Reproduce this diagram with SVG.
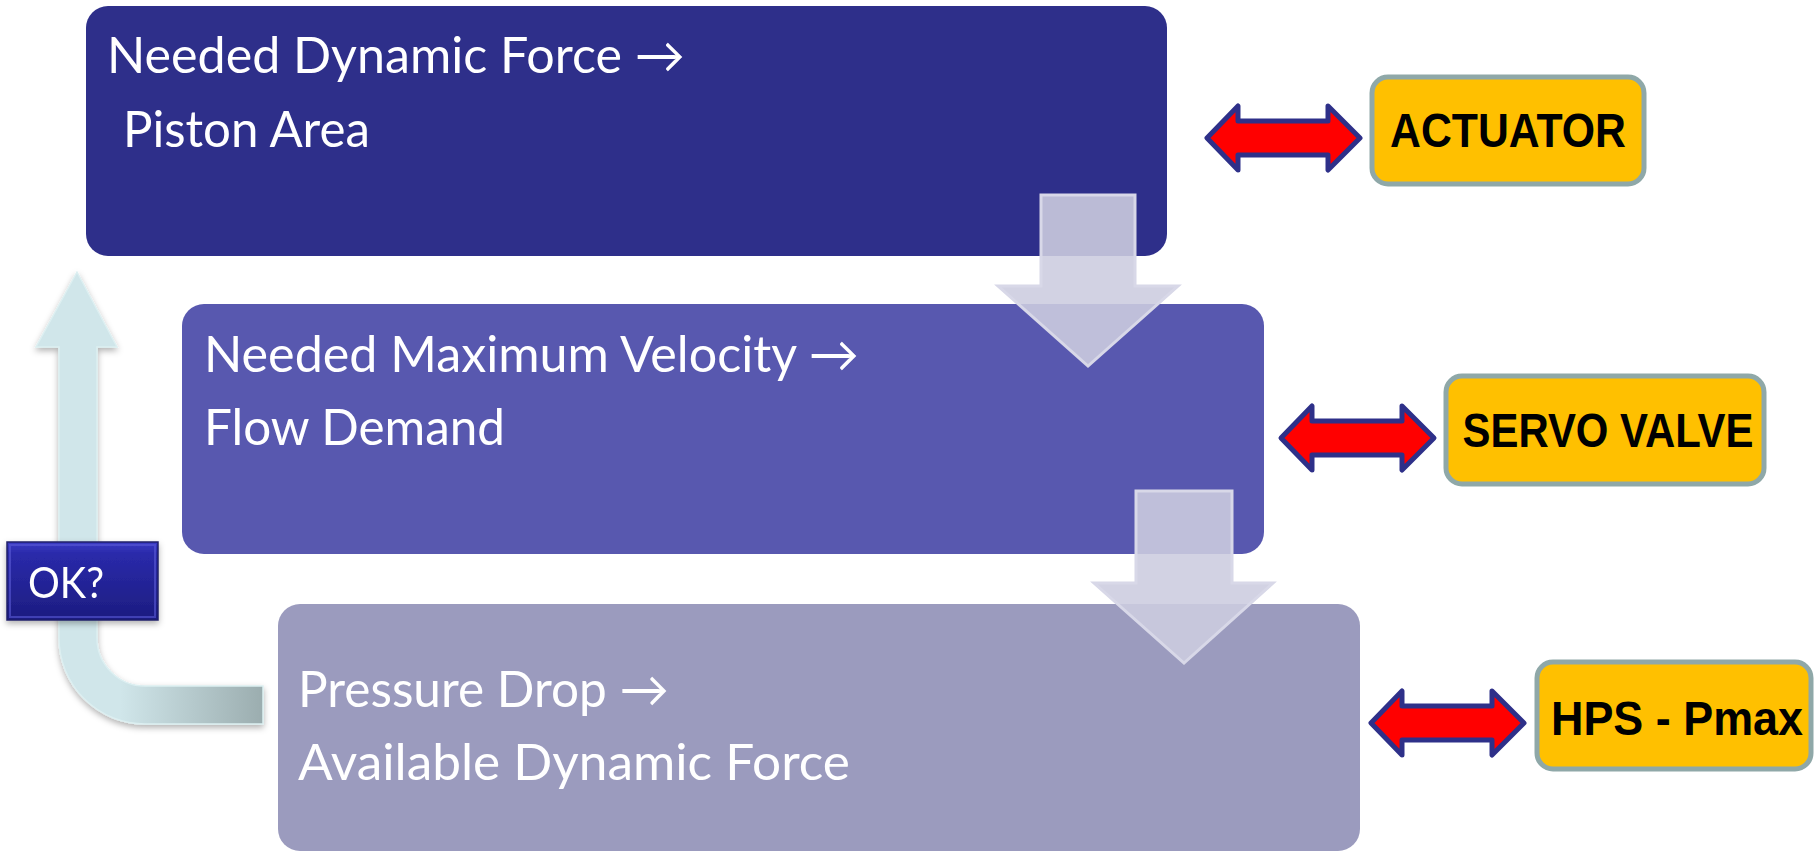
<svg xmlns="http://www.w3.org/2000/svg" xmlns:xlink="http://www.w3.org/1999/xlink" width="1820" height="852" viewBox="0 0 1820 852">
  <style>
    .step text { font-family: Lato, "Liberation Sans", sans-serif; font-size: 50px; fill: #ffffff; }
    .part rect { fill: #FFC000; stroke: #8FA8A8; stroke-width: 5; }
    .part text { font-family: "Liberation Sans", Arial, sans-serif; font-weight: bold; font-size: 48px; fill: #000000; text-anchor: middle; }
    .flow { fill: #CDCDDF; fill-opacity: 0.89; stroke: #D8D8E8; stroke-width: 3; }
    .link { fill: #FF0000; stroke: #2E3089; stroke-width: 5; stroke-linejoin: round; }
  </style>
  <defs>
    <linearGradient id="loopGrad" gradientUnits="userSpaceOnUse" x1="120" y1="0" x2="263" y2="0">
      <stop offset="0" stop-color="#D0E6EA"/>
      <stop offset="1" stop-color="#9BADAF"/>
    </linearGradient>
    <linearGradient id="okGrad" x1="0" y1="0" x2="0" y2="1">
      <stop offset="0" stop-color="#3A3AC4"/>
      <stop offset="0.15" stop-color="#2A2AAA"/>
      <stop offset="1" stop-color="#1C1C80"/>
    </linearGradient>
    <filter id="shadow" x="-20%" y="-20%" width="140%" height="140%">
      <feDropShadow dx="0" dy="3" stdDeviation="3" flood-color="#000000" flood-opacity="0.3"/>
    </filter>
    <!-- double-headed link arrow, origin at left tip -->
    <path id="dblArrow" d="M0,0 L31,-32 L31,-17 L121,-17 L121,-32 L153,0 L121,32 L121,17 L31,17 L31,32 Z"/>
  </defs>

  <!-- process steps -->
  <g id="step-force" class="step">
    <rect x="86" y="6" width="1081" height="250" rx="22" fill="#2E2F8A"/>
    <text x="107" y="73" textLength="578" lengthAdjust="spacingAndGlyphs">Needed Dynamic Force →</text>
    <text x="123" y="147" textLength="247" lengthAdjust="spacingAndGlyphs">Piston Area</text>
  </g>
  <g id="step-velocity" class="step">
    <rect x="182" y="304" width="1082" height="250" rx="22" fill="#5858AF"/>
    <text x="204" y="372" textLength="655" lengthAdjust="spacingAndGlyphs">Needed Maximum Velocity →</text>
    <text x="204" y="445" textLength="301" lengthAdjust="spacingAndGlyphs">Flow Demand</text>
  </g>
  <g id="step-pressure" class="step">
    <rect x="278" y="604" width="1082" height="247" rx="22" fill="#9B9BBE"/>
    <text x="298" y="707" textLength="371" lengthAdjust="spacingAndGlyphs">Pressure Drop →</text>
    <text x="298" y="780" textLength="552" lengthAdjust="spacingAndGlyphs">Available Dynamic Force</text>
  </g>

  <!-- components -->
  <g id="part-actuator" class="part">
    <rect x="1372" y="77" width="272" height="107" rx="16"/>
    <text x="1508" y="147" textLength="236" lengthAdjust="spacingAndGlyphs">ACTUATOR</text>
  </g>
  <g id="part-servo" class="part">
    <rect x="1446" y="376" width="318" height="108" rx="16"/>
    <text x="1608" y="447" textLength="291" lengthAdjust="spacingAndGlyphs">SERVO VALVE</text>
  </g>
  <g id="part-hps" class="part">
    <rect x="1537" y="662" width="274" height="107" rx="16"/>
    <text x="1677" y="735" textLength="252" lengthAdjust="spacingAndGlyphs">HPS - Pmax</text>
  </g>

  <!-- connectors -->
  <g id="connectors">
    <path class="flow" d="M1041,195 H1135 V286 H1178 L1088,366 L998,286 H1041 Z"/>
    <path class="flow" d="M1136,491 H1232 V583 H1273 L1184,663 L1094,583 H1136 Z"/>
    <path filter="url(#shadow)" fill="url(#loopGrad)" stroke="#DCEFF1" stroke-width="1.5"
          d="M77,272 L117,347 L97,347 L97,638 A48,48 0 0 0 145,686 L263,686 L263,724 L145,724 A86,86 0 0 1 59,638 L59,347 L36,347 Z"/>
    <use xlink:href="#dblArrow" class="link" transform="translate(1207,138)"/>
    <use xlink:href="#dblArrow" class="link" transform="translate(1281,438)"/>
    <use xlink:href="#dblArrow" class="link" transform="translate(1371,723)"/>
  </g>

  <!-- loop check -->
  <g id="check-ok" filter="url(#shadow)">
    <rect x="7" y="542" width="151" height="78" fill="url(#okGrad)" stroke="#20206A" stroke-width="1.5"/>
    <rect x="10" y="545" width="145" height="72" fill="none" stroke="#5A5AD6" stroke-opacity="0.6" stroke-width="2"/>
    <text x="28" y="598" font-family="Lato, 'Liberation Sans', sans-serif" font-size="42" fill="#ffffff" textLength="76" lengthAdjust="spacingAndGlyphs">OK?</text>
  </g>
</svg>
